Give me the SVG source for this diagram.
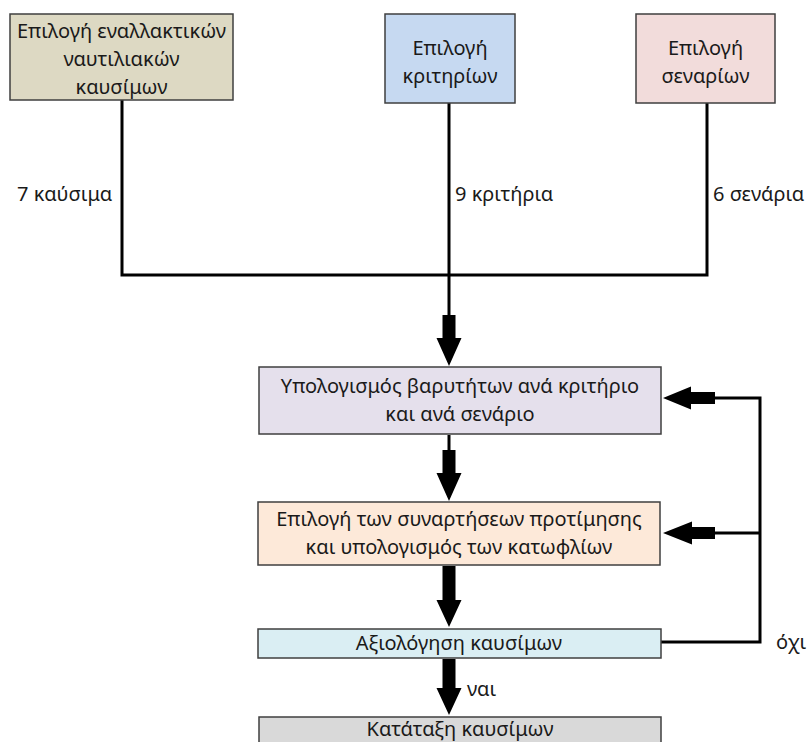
<svg xmlns="http://www.w3.org/2000/svg" width="809" height="742" viewBox="0 0 809 742">
<style>
.box{stroke:#3f3f3f;stroke-width:1.5}
.t{font-family:"Noto Sans","Open Sans",sans-serif;font-size:20px;fill:#1a1a1a;text-anchor:middle}
.l{font-family:"Noto Sans","Open Sans",sans-serif;font-size:20px;fill:#1a1a1a}
.ln{fill:none;stroke:#000;stroke-width:3}
.ar{fill:#000}
</style>
<rect width="809" height="742" fill="#fff"/>
<g id="connectors">
<path class="ln" d="M122,100 V275 H707 V103 M449,103 V316"/>
<polygon class="ar" points="442.5,315 455.5,315 455.5,338 461.5,338 449,366 436.5,338 442.5,338"/>
<path class="ln" d="M449,435 V451"/>
<polygon class="ar" points="442.5,450 455.5,450 455.5,473 461.5,473 449,501 436.5,473 442.5,473"/>
<polygon class="ar" points="442.5,566 455.5,566 455.5,600 461.5,600 449,627 436.5,600 442.5,600"/>
<polygon class="ar" points="442.5,659 455.5,659 455.5,688 461.5,688 449,715 436.5,688 442.5,688"/>
<path class="ln" d="M661,642 H760 V398 H714 M760,533 H714"/>
<polygon class="ar" points="715,392 715,404 691,404 691,409.5 663,398 691,386.5 691,392"/>
<polygon class="ar" points="715,527 715,539 692,539 692,544.5 663,533 692,521.5 692,527"/>
</g>
<g id="n1"><rect class="box" x="10" y="14" width="223" height="86" fill="#ddd9c3"/>
<text class="t" x="121.5" y="38">Επιλογή εναλλακτικών</text><text class="t" x="121.5" y="66">ναυτιλιακών</text><text class="t" x="121.5" y="94">καυσίμων</text></g>
<g id="n2"><rect class="box" x="385" y="14" width="130" height="89" fill="#c6d9f1"/>
<text class="t" x="450" y="55">Επιλογή</text><text class="t" x="450" y="83">κριτηρίων</text></g>
<g id="n3"><rect class="box" x="636" y="14" width="139" height="89" fill="#f2dcdb"/>
<text class="t" x="705.5" y="55">Επιλογή</text><text class="t" x="705.5" y="83">σεναρίων</text></g>
<g id="labels">
<text class="l" x="17" y="201">7 καύσιμα</text>
<text class="l" x="455" y="201">9 κριτήρια</text>
<text class="l" x="713" y="201">6 σενάρια</text>
<text class="l" x="776" y="649">όχι</text>
<text class="l" x="467" y="696">ναι</text>
</g>
<g id="n4"><rect class="box" x="259" y="367" width="402" height="67" fill="#e5e0ec"/>
<text class="t" x="460" y="393">Υπολογισμός βαρυτήτων ανά κριτήριο</text><text class="t" x="460" y="421">και ανά σενάριο</text></g>
<g id="n5"><rect class="box" x="258" y="502" width="402" height="63" fill="#fde9d9"/>
<text class="t" x="459" y="526">Επιλογή των συναρτήσεων προτίμησης</text><text class="t" x="459" y="554">και υπολογισμός των κατωφλίων</text></g>
<g id="n6"><rect class="box" x="258" y="629" width="403" height="29" fill="#daeef3"/>
<text class="t" x="459" y="650">Αξιολόγηση καυσίμων</text></g>
<g id="n7"><rect class="box" x="259" y="717" width="402" height="40" fill="#d9d9d9"/>
<text class="t" x="460" y="736">Κατάταξη καυσίμων</text></g>
</svg>
